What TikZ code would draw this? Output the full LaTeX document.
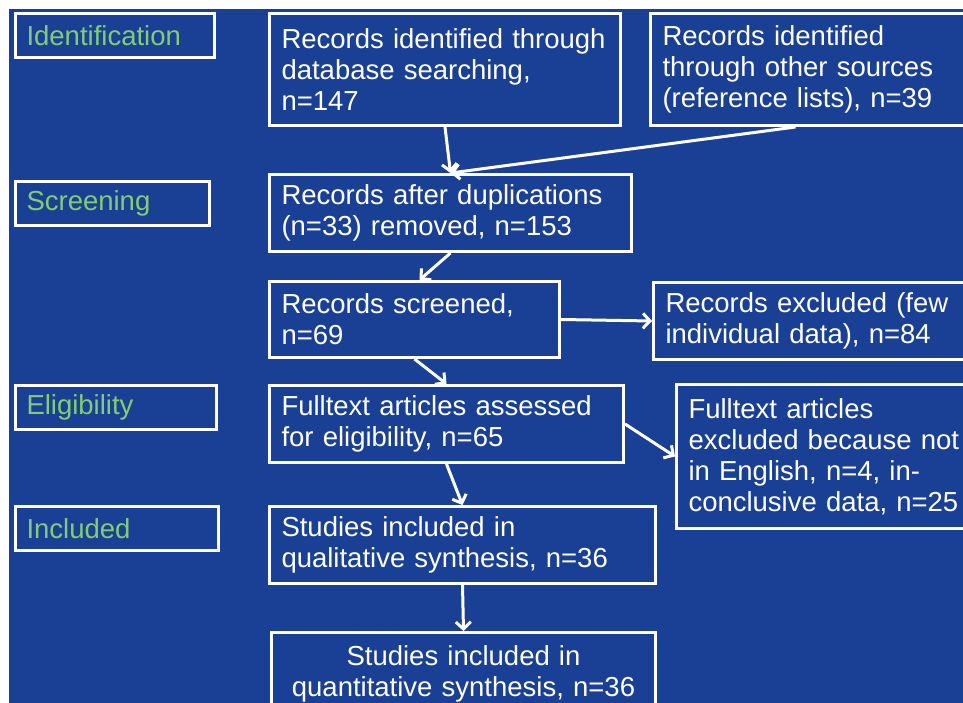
\documentclass[tikz,border=0pt]{standalone}
\usepackage{fontspec}
\setmainfont{Liberation Sans}
\usetikzlibrary{arrows.meta}
\definecolor{slideblue}{RGB}{26,64,150}
\definecolor{stagegreen}{RGB}{130,205,115}

\begin{document}
\begin{tikzpicture}[
        x                    = 1pt,
        y                    = -1pt,
        every node/.style    = {font=\fontsize{27.5}{31}\selectfont},
        stage/.style         = {draw=white, line width=3pt, text=stagegreen, anchor=north west, inner xsep=11pt, minimum height=44pt, align=left},
        record/.style        = {draw=white, line width=3pt, text=white, anchor=north west, inner xsep=12pt, align=left},
        flow/.style          = {draw=white, line width=3pt, -{Straight Barb[length=7pt, width=15pt]}},
        %rounded corners
      ]
        \useasboundingbox (0,0) rectangle (963,703);
        \fill[white] (-5,-5) rectangle (975,715);
        \fill[slideblue] (9,9) rectangle (975,715);

        % stages
        \node[stage, text width=177pt] (ident) at (14,12)  {Identification};
        \node[stage, text width=172pt] (screen) at (14,180) {Screening};
        \node[stage, text width=179pt] (elig) at (14,384)  {Eligibility};
        \node[stage, text width=181pt] (incl) at (14,505)  {Included};

        % records
        \node[record, text width=327pt, minimum height=112pt] (database) at (268,12)
            {Records identified through\\database searching,\\n=147};
        \node[record, text width=326pt, minimum height=112pt] (other) at (649,12)
            {Records identified\\through other sources\\(reference lists), n=39};
        \node[record, text width=338pt, minimum height=77pt] (dupl) at (268,173)
            {Records after duplications\\(n=33) removed, n=153};
        \node[record, text width=266pt, minimum height=76pt] (screened) at (268,280)
            {Records screened,\\n=69};
        \node[record, text width=326pt, minimum height=77pt] (excl) at (652,281)
            {Records excluded (few\\individual data), n=84};
        \node[record, text width=330pt, minimum height=77pt] (fulltext) at (268,384)
            {Fulltext articles assessed\\for eligibility, n=65};
        \node[record, text width=306pt, minimum height=144pt] (ftexcl) at (675,383)
            {Fulltext articles\\excluded because not\\in English, n=4, in-\\conclusive data, n=25};
        \node[record, text width=362pt, minimum height=77pt] (qual) at (268,505)
            {Studies included in\\qualitative synthesis, n=36};
        \node[record, text width=360pt, minimum height=82pt, align=center] (quant) at (270,631)
            {Studies included in\\quantitative synthesis, n=36};

        \draw[flow] (database.south) -- (dupl.north);
        \draw[flow] ([xshift=-30pt]other.south) -- (dupl.north);
        \draw[flow] (dupl.south) -- ([xshift=5pt]screened.north);
        \draw[flow] (screened.east) -- (excl.west);
        \draw[flow] (screened.south) -- (fulltext.north);
        \draw[flow] (fulltext.east) -- (ftexcl.west);
        \draw[flow] (fulltext.south) -- (qual.north);
        \draw[flow] (qual.south) -- (quant.north);
    \end{tikzpicture}
\end{document}
